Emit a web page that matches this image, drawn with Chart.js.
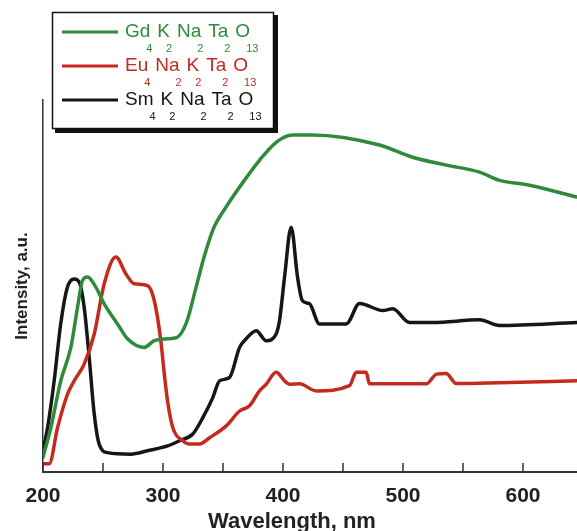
<!DOCTYPE html>
<html>
<head>
<meta charset="utf-8">
<title>Excitation spectra</title>
<script src="https://cdn.jsdelivr.net/npm/chart.js@4.4.1/dist/chart.umd.min.js"></script>
<style>
  body { margin: 0; background: #fff; }
  canvas { display: block; }
</style>
</head>
<body>
<canvas id="spectra" width="577" height="531"></canvas>
<script>
'use strict';

// x ticks (nm) and which of them get a label
let xTickValues = [200, 250, 300, 350, 400, 450, 500, 550, 600];
let xTickLabels = [200, 300, 400, 500, 600];

// Gd4K2Na2Ta2O13 (green)
let gdWavelength = [200, 206.5, 214.8, 223.2, 228.8, 232.9, 237.1, 244, 251, 262.1, 270.4, 284.3, 292.7, 303.8, 311.3, 319.6, 327.9, 334.6, 342.1, 352.9, 369.6, 380.4, 394.6, 407.9, 424.6, 480.4, 507.9, 536.3, 563.8, 580.4, 605.4, 645];
let gdIntensity = [3.9, 11.9, 24.5, 33.5, 44.3, 51.5, 52.4, 49.7, 45.2, 39.8, 35.8, 33.5, 35.3, 35.8, 36.1, 40.2, 50.1, 58.2, 65.5, 71.4, 79.2, 83.8, 88.7, 90.6, 90.6, 87.9, 84.6, 82.5, 80.6, 78.4, 77.1, 73.9];

// Eu4Na2K2Ta2O13 (red)
let euWavelength = [200, 205.2, 212.1, 220.4, 226, 234.3, 242.7, 251, 260.7, 269, 276, 287.1, 292.7, 298.2, 300.8, 303.8, 308.2, 316.5, 322.1, 330.4, 338.8, 352.7, 363.8, 372.1, 380.4, 386, 394.3, 401.3, 405.4, 413.8, 427.7, 455.4, 461, 469.3, 472.1, 519.3, 528, 536, 544.3, 580.4, 645];
let euIntensity = [2.2, 2.2, 11.9, 20.9, 24.5, 29.0, 37.1, 50.6, 57.8, 53.3, 50.6, 50.1, 46.1, 35.3, 27.2, 19.1, 11.9, 8.4, 7.5, 7.5, 9.2, 12.4, 16.4, 17.8, 21.8, 23.6, 26.8, 24.5, 23.6, 23.7, 21.8, 23.2, 26.8, 26.8, 23.7, 23.7, 26.3, 26.5, 23.8, 24.0, 24.5];

// Sm4K2Na2Ta2O13 (black)
let smWavelength = [200, 203.8, 209.3, 214.8, 220.4, 226, 230.2, 234.3, 238.5, 242.7, 246.8, 253.8, 273.2, 287.1, 303.8, 313.8, 324.8, 333.2, 341.5, 347.1, 355.4, 363.8, 369.3, 377.7, 386, 394.3, 397.1, 401.3, 406.8, 412.1, 416.1, 422.1, 430.4, 452.7, 463.8, 483.2, 491.5, 505.4, 524.6, 563.8, 580.4, 645];
let smIntensity = [5.7, 11.9, 24.5, 39.9, 49.7, 51.9, 51.0, 44.3, 30.8, 15.6, 7.5, 5.2, 4.8, 5.7, 7.0, 8.4, 10.2, 14.6, 20.0, 24.5, 25.4, 33.5, 35.8, 38.0, 35.3, 37.1, 40.7, 52.4, 65.8, 52.4, 46.1, 45.2, 39.8, 39.8, 45.3, 43.4, 43.9, 40.2, 40.2, 40.9, 39.4, 40.2];

// legend formulas: [element, subscript]
let gdFormula = [['Gd', '4'], ['K', '2'], ['Na', '2'], ['Ta', '2'], ['O', '13']];
let euFormula = [['Eu', '4'], ['Na', '2'], ['K', '2'], ['Ta', '2'], ['O', '13']];
let smFormula = [['Sm', '4'], ['K', '2'], ['Na', '2'], ['Ta', '2'], ['O', '13']];

const FONT = '"Liberation Sans", Arial, Helvetica, sans-serif';

function toPoints(xs, ys) {
  let pts = [];
  for (let i = 0; i < xs.length; i++) {
    pts.push({ x: xs[i], y: ys[i] });
  }
  return pts;
}

function makeDataset(label, xs, ys, color, formula) {
  return {
    label: label,
    data: toPoints(xs, ys),
    borderColor: color,
    backgroundColor: color,
    borderWidth: 3.5,
    pointRadius: 0,
    cubicInterpolationMode: 'monotone',
    borderJoinStyle: 'round',
    borderCapStyle: 'round',
    formula: formula
  };
}

// inward ticks, x title and the boxed legend with subscripts
const decorations = {
  id: 'decorations',
  afterDraw(chart) {
    const ctx = chart.ctx;
    const xScale = chart.scales.x;
    const bottom = chart.chartArea.bottom;
    ctx.save();

    ctx.strokeStyle = '#333';
    ctx.lineWidth = 1.5;
    xTickValues.forEach(v => {
      const px = xScale.getPixelForValue(v);
      ctx.beginPath();
      ctx.moveTo(px, bottom);
      ctx.lineTo(px, bottom - 9);
      ctx.stroke();
    });

    ctx.fillStyle = '#222';
    ctx.font = 'bold 22px ' + FONT;
    ctx.textAlign = 'center';
    ctx.textBaseline = 'alphabetic';
    ctx.fillText('Wavelength, nm', 292, 528);

    // legend box with drop shadow
    ctx.fillStyle = '#111';
    ctx.fillRect(55, 15, 223, 118);
    ctx.fillStyle = '#fff';
    ctx.fillRect(52, 12, 222, 117);
    ctx.strokeStyle = '#111';
    ctx.lineWidth = 1.5;
    ctx.strokeRect(52.5, 12.5, 221, 116);

    const rowY = [32, 66, 100];
    ctx.textBaseline = 'middle';
    chart.data.datasets.forEach((ds, i) => {
      const y = rowY[i];
      ctx.strokeStyle = ds.borderColor;
      ctx.lineWidth = 3;
      ctx.beginPath();
      ctx.moveTo(62, y);
      ctx.lineTo(118, y);
      ctx.stroke();

      ctx.fillStyle = ds.borderColor;
      ctx.textAlign = 'left';
      let x = 125;
      ds.formula.forEach(part => {
        ctx.font = '19px ' + FONT;
        ctx.fillText(part[0], x, y);
        const w = ctx.measureText(part[0]).width;
        ctx.font = '11px ' + FONT;
        ctx.fillText(part[1], x + w - 4, y + 17);
        x += w + 7;
      });
    });

    ctx.restore();
  }
};

let ctx = document.getElementById('spectra');

let spectraChart = new Chart(ctx, {
  type: 'line',
  data: {
    datasets: [
      makeDataset('Gd4K2Na2Ta2O13', gdWavelength, gdIntensity, '#2f8b3b', gdFormula),
      makeDataset('Eu4Na2K2Ta2O13', euWavelength, euIntensity, '#c42a1e', euFormula),
      makeDataset('Sm4K2Na2Ta2O13', smWavelength, smIntensity, '#161616', smFormula)
    ]
  },
  options: {
    responsive: false,
    animation: false,
    layout: { padding: { top: 100, right: 0, left: 0, bottom: 0 } },
    plugins: {
      legend: { display: false },
      tooltip: { enabled: false }
    },
    scales: {
      x: {
        type: 'linear',
        min: 200,
        max: 645,
        afterBuildTicks: scale => {
          scale.ticks = xTickValues.map(v => ({ value: v }));
        },
        afterFit: scale => { scale.height = 59; },
        grid: { display: false, drawTicks: false },
        border: { display: true, color: '#333', width: 2 },
        ticks: {
          autoSkip: false,
          maxRotation: 0,
          padding: 12,
          color: '#222',
          font: { family: FONT, size: 21, weight: 'bold' },
          callback: v => xTickLabels.includes(v) ? String(v) : ''
        }
      },
      y: {
        min: 0,
        max: 100,
        afterFit: scale => { scale.width = 43; },
        grid: { display: false, drawTicks: false },
        border: { display: true, color: '#333', width: 1.5 },
        ticks: { display: false },
        title: {
          display: true,
          text: 'Intensity, a.u.',
          color: '#222',
          font: { family: FONT, size: 17, weight: 'bold' },
          padding: { top: 12, bottom: 0 }
        }
      }
    }
  },
  plugins: [decorations]
});
</script>
</body>
</html>
